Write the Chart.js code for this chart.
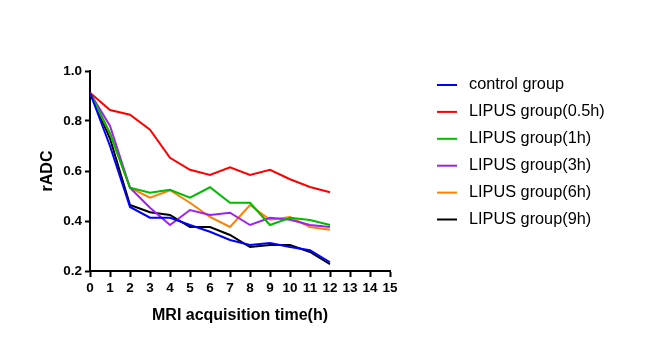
<!DOCTYPE html>
<html lang="en">
<head>
  <meta charset="UTF-8">
  <title>rADC over time</title>
  <script src="https://cdn.jsdelivr.net/npm/chart.js"></script>
  <style>
    html, body { margin: 0; padding: 0; background: #fff; }
    #wrap { width: 650px; height: 357px; }
  </style>
</head>
<body>
  <div id="wrap"><canvas id="adcChart" width="650" height="357"></canvas></div>

  <script>
    // time points (h)
    const hours = [0, 1, 2, 3, 4, 5, 6, 7, 8, 9, 10, 11, 12];

    // rADC values
    const control = [0.913, 0.70, 0.456, 0.413, 0.413, 0.384, 0.357, 0.324, 0.304, 0.312, 0.296, 0.283, 0.235];
    const lipus05 = [0.913, 0.844, 0.825, 0.765, 0.653, 0.605, 0.584, 0.615, 0.584, 0.605, 0.567, 0.536, 0.515];
    const lipus1  = [0.913, 0.75, 0.533, 0.513, 0.525, 0.493, 0.535, 0.473, 0.473, 0.384, 0.413, 0.404, 0.384];
    const lipus3  = [0.913, 0.78, 0.533, 0.453, 0.384, 0.444, 0.424, 0.433, 0.384, 0.413, 0.405, 0.384, 0.376];
    const lipus6  = [0.913, 0.75, 0.533, 0.493, 0.523, 0.473, 0.416, 0.376, 0.464, 0.405, 0.416, 0.376, 0.365];
    const lipus9  = [0.913, 0.73, 0.464, 0.435, 0.424, 0.376, 0.376, 0.344, 0.296, 0.304, 0.304, 0.276, 0.227];

    const seriesNames = ['control group', 'LIPUS group(0.5h)', 'LIPUS group(1h)', 'LIPUS group(3h)', 'LIPUS group(6h)', 'LIPUS group(9h)'];
    const seriesColors = ['#0000FF', '#FF0000', '#00BB00', '#A020F0', '#FF8000', '#000000'];
    const seriesValues = [control, lipus05, lipus1, lipus3, lipus6, lipus9];

    const xTicks = [0, 1, 2, 3, 4, 5, 6, 7, 8, 9, 10, 11, 12, 13, 14, 15];
    const yTicks = [0.2, 0.4, 0.6, 0.8, 1.0];

    const datasets = seriesValues.map((vals, i) => ({
      label: seriesNames[i],
      data: vals.map((v, j) => ({ x: hours[j], y: v })),
      borderColor: seriesColors[i],
      backgroundColor: seriesColors[i],
      borderWidth: 2,
      pointRadius: 0,
      tension: 0,
      fill: false
    }));

    // legend drawn on the right, like the original figure
    const sideLegend = {
      id: 'sideLegend',
      afterDraw(chart) {
        const ctx = chart.ctx;
        ctx.save();
        ctx.font = '16.3px "Liberation Sans", Arial, sans-serif';
        ctx.textBaseline = 'middle';
        chart.data.datasets.forEach((ds, i) => {
          const y = 85 + i * 26.9;
          ctx.strokeStyle = ds.borderColor;
          ctx.lineWidth = 2;
          ctx.beginPath();
          ctx.moveTo(437, y);
          ctx.lineTo(457, y);
          ctx.stroke();
          ctx.fillStyle = '#000';
          ctx.fillText(ds.label, 469, y);
        });
        ctx.restore();
      }
    };

    const tickFont = { family: '"Liberation Sans", Arial, sans-serif', size: 13.5, weight: 'bold' };
    const titleFont = { family: '"Liberation Sans", Arial, sans-serif', size: 16, weight: 'bold' };

    new Chart(document.getElementById('adcChart'), {
      type: 'line',
      data: { datasets: datasets },
      plugins: [sideLegend],
      options: {
        responsive: false,
        animation: false,
        layout: { padding: { top: 71, right: 260, left: 0, bottom: 0 } },
        plugins: { legend: { display: false }, tooltip: { enabled: false } },
        scales: {
          x: {
            type: 'linear',
            min: 0,
            max: 15,
            afterFit: s => { s.height = 86; },
            afterBuildTicks: s => { s.ticks = xTicks.map(v => ({ value: v })); },
            border: { color: '#000', width: 2 },
            grid: { drawOnChartArea: false, drawTicks: true, tickLength: 6, tickWidth: 2, tickColor: '#000' },
            ticks: { color: '#000', font: tickFont, padding: 3, maxRotation: 0, autoSkip: false },
            title: { display: true, text: 'MRI acquisition time(h)', color: '#000', font: titleFont, padding: { top: 0, bottom: 32 } }
          },
          y: {
            min: 0.2,
            max: 1.0,
            afterFit: s => { s.width = 90; },
            afterBuildTicks: s => { s.ticks = yTicks.map(v => ({ value: v })); },
            border: { color: '#000', width: 2 },
            grid: { drawOnChartArea: false, drawTicks: true, tickLength: 5, tickWidth: 2, tickColor: '#000' },
            ticks: { color: '#000', font: tickFont, padding: 3, callback: v => v.toFixed(1) },
            title: { display: true, text: 'rADC', color: '#000', font: titleFont, padding: { top: 38, bottom: 0 } }
          }
        }
      }
    });
  </script>
</body>
</html>
